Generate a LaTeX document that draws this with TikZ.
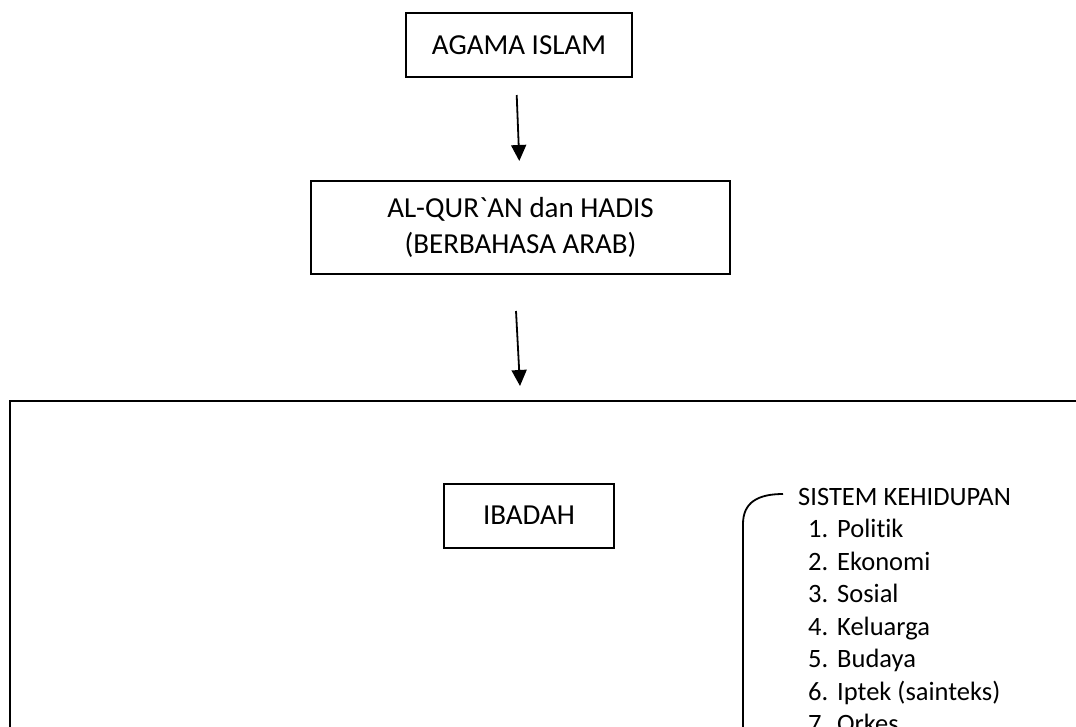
\documentclass[tikz,border=0pt]{standalone}
\usepackage{fontspec}
\setmainfont[Ligatures=NoCommon]{Carlito}
\usetikzlibrary{arrows.meta}
\tikzstyle{box} = [rectangle, draw=black, line width=2pt, text centered, inner sep=0pt, font=\fontsize{29}{36.5}\selectfont]
\tikzstyle{entry} = [anchor=base west, inner sep=0pt]
\tikzstyle{arrow} = [line width=1.8pt,-{Triangle[length=16pt,width=15pt]}]

\begin{document}
\begin{tikzpicture}[x=1pt, y=-1pt, font=\fontsize{26.5}{32.5}\selectfont]
        \useasboundingbox (0,0) rectangle (1076,726);
        \clip (0,0) rectangle (1076,726);
        % Nodes
        \node (islam) [box, minimum width=226pt, minimum height=64pt] at (519,45) {AGAMA ISLAM};
        \node (quran) [box, minimum width=419pt, minimum height=93pt, align=center] at (520.5,227.5) {AL-QUR\textasciigrave AN dan HADIS\\(BERBAHASA ARAB)};
        \node (frame) [box, anchor=north west, minimum width=1100pt, minimum height=400pt] at (9,400) {};
        \node (ibadah) [box, minimum width=170pt, minimum height=64pt] at (529,515.5) {IBADAH};
        \node (sistem) [entry] at (798,505) {SISTEM KEHIDUPAN};
        \foreach \i/\t in {1/Politik, 2/Ekonomi, 3/Sosial, 4/Keluarga, 5/Budaya, 6/Iptek (sainteks), 7/Orkes}
            \node (item\i) [entry] at (808,505+32.5*\i) {\makebox[29pt][l]{\i.}\t};

        % Arrows
        \coordinate (a1s) at (516.7,95);
        \coordinate (a1e) at (519.3,161);
        \coordinate (a2s) at (516,311);
        \coordinate (a2e) at (520,386);
        \draw [arrow] (a1s) -- (a1e);
        \draw [arrow] (a2s) -- (a2e);

        % Brace
        \coordinate (bs) at (783,494);
        \draw [line width=1.8pt] (bs) .. controls (757,494) and (743,503) .. (743,524) -- (743,740);
    \end{tikzpicture}
\end{document}
